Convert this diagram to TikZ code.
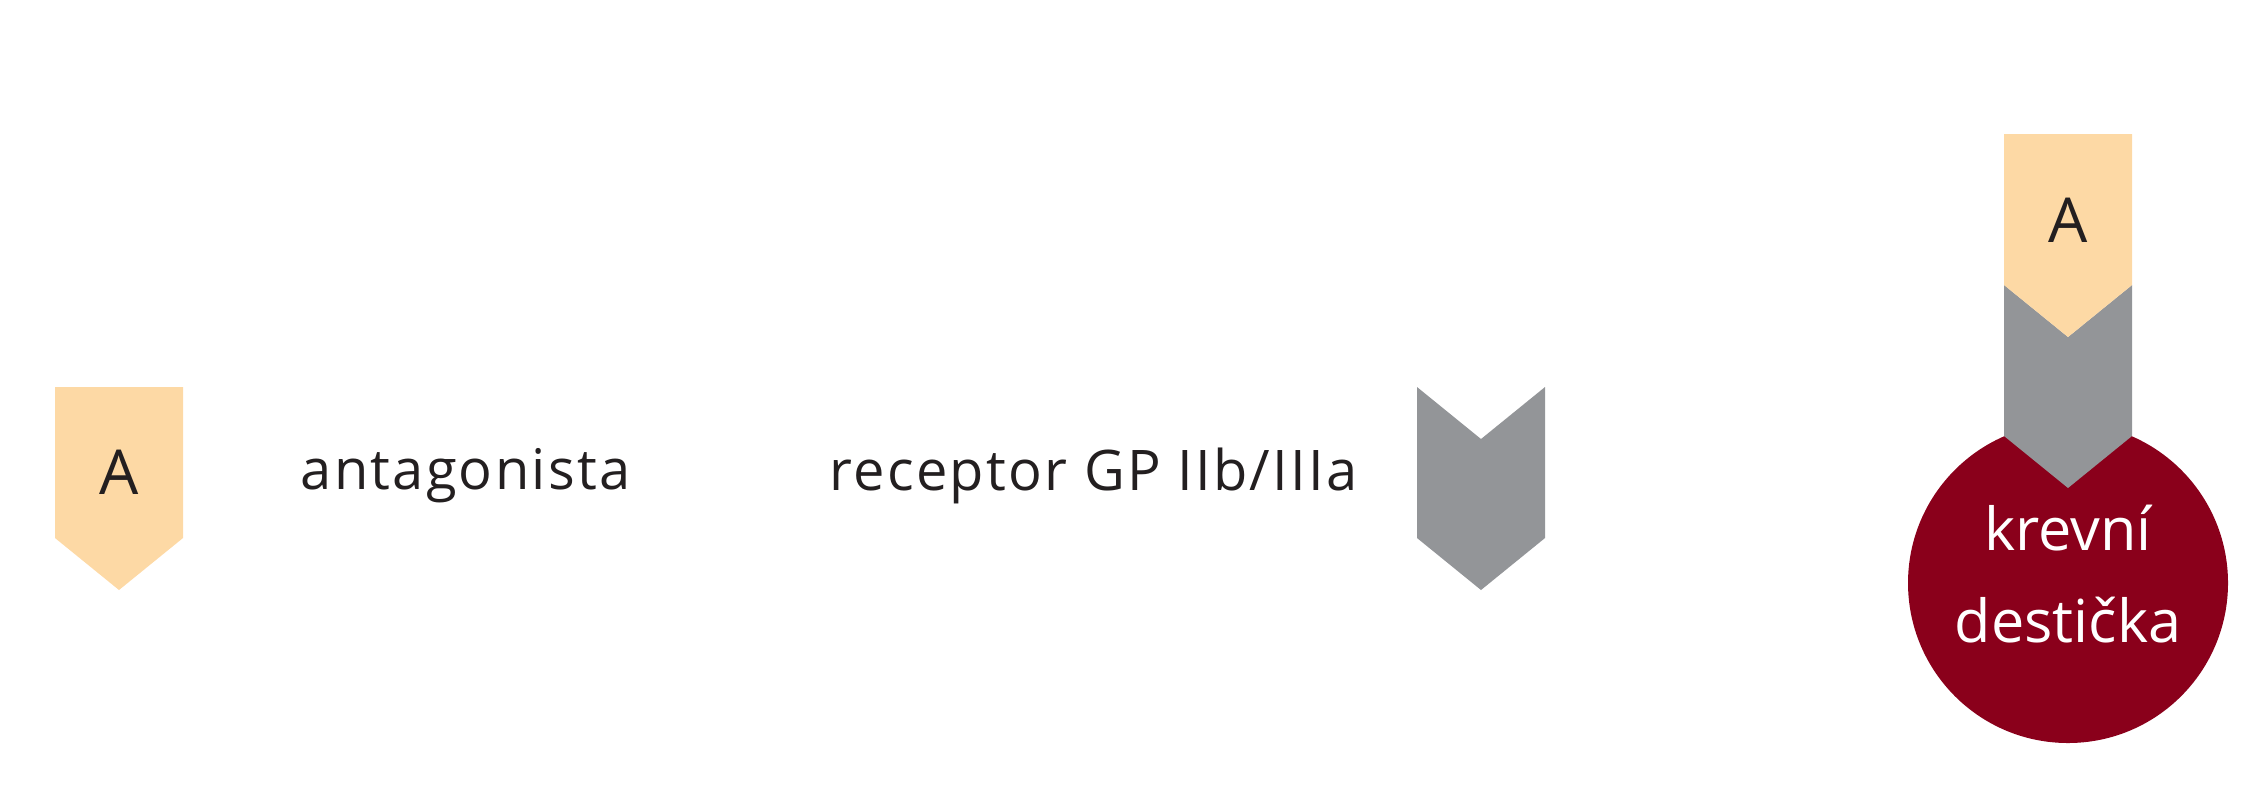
\documentclass[tikz,border=0pt]{standalone}
\usepackage{fontspec}
\setmainfont{Open Sans}
\newfontfamily\labelfont[LetterSpace=4]{Open Sans}
\definecolor{peach}{RGB}{253,217,165}
\definecolor{recgray}{RGB}{147,149,152}
\definecolor{platred}{RGB}{138,0,27}
\definecolor{inkdark}{RGB}{35,31,32}
\tikzset{
  agent/.style={fill=peach},
  receptorshape/.style={fill=recgray},
  plate/.style={fill=platred},
  lbl/.style={inner sep=0pt, anchor=base west, text=inkdark, font=\labelfont\fontsize{16.8pt}{20pt}\selectfont},
  letterA/.style={inner sep=0pt, text=inkdark, font=\fontsize{18.6pt}{22pt}\selectfont},
  platetext/.style={inner sep=0pt, anchor=base, text=white, font=\fontsize{17.8pt}{20pt}\selectfont}
}
\begin{document}
\begin{tikzpicture}[x=0.3pt,y=-0.3pt]
\useasboundingbox (0,0) rectangle (2262,800);
% legend: antagonist
\fill[agent] (55,387) -- (183,387) -- (183,538) -- (119,590) -- (55,538) -- cycle;
\node[letterA] (aleft) at (119,472) {A};
\node[lbl] (antag) at (300,489) {antagonista};
% legend: receptor
\node[lbl] (recep) at (829,490) {receptor GP IIb/IIIa};
\fill[receptorshape] (1417,387) -- (1481,439) -- (1545,387) -- (1545,538) -- (1481,590) -- (1417,538) -- cycle;
% platelet with bound receptor and antagonist
\fill[plate] (2068,583) circle[radius=160];
\fill[receptorshape] (2004,285) -- (2068,337) -- (2132,285) -- (2132,436) -- (2068,488) -- (2004,436) -- cycle;
\fill[agent] (2004,134) -- (2132,134) -- (2132,285) -- (2068,337) -- (2004,285) -- cycle;
\node[letterA] (aright) at (2068,220) {A};
\node[platetext] (krevni) at (2068,550) {krevní};
\node[platetext] (desticka) at (2068,642) {destička};
\end{tikzpicture}
\end{document}
